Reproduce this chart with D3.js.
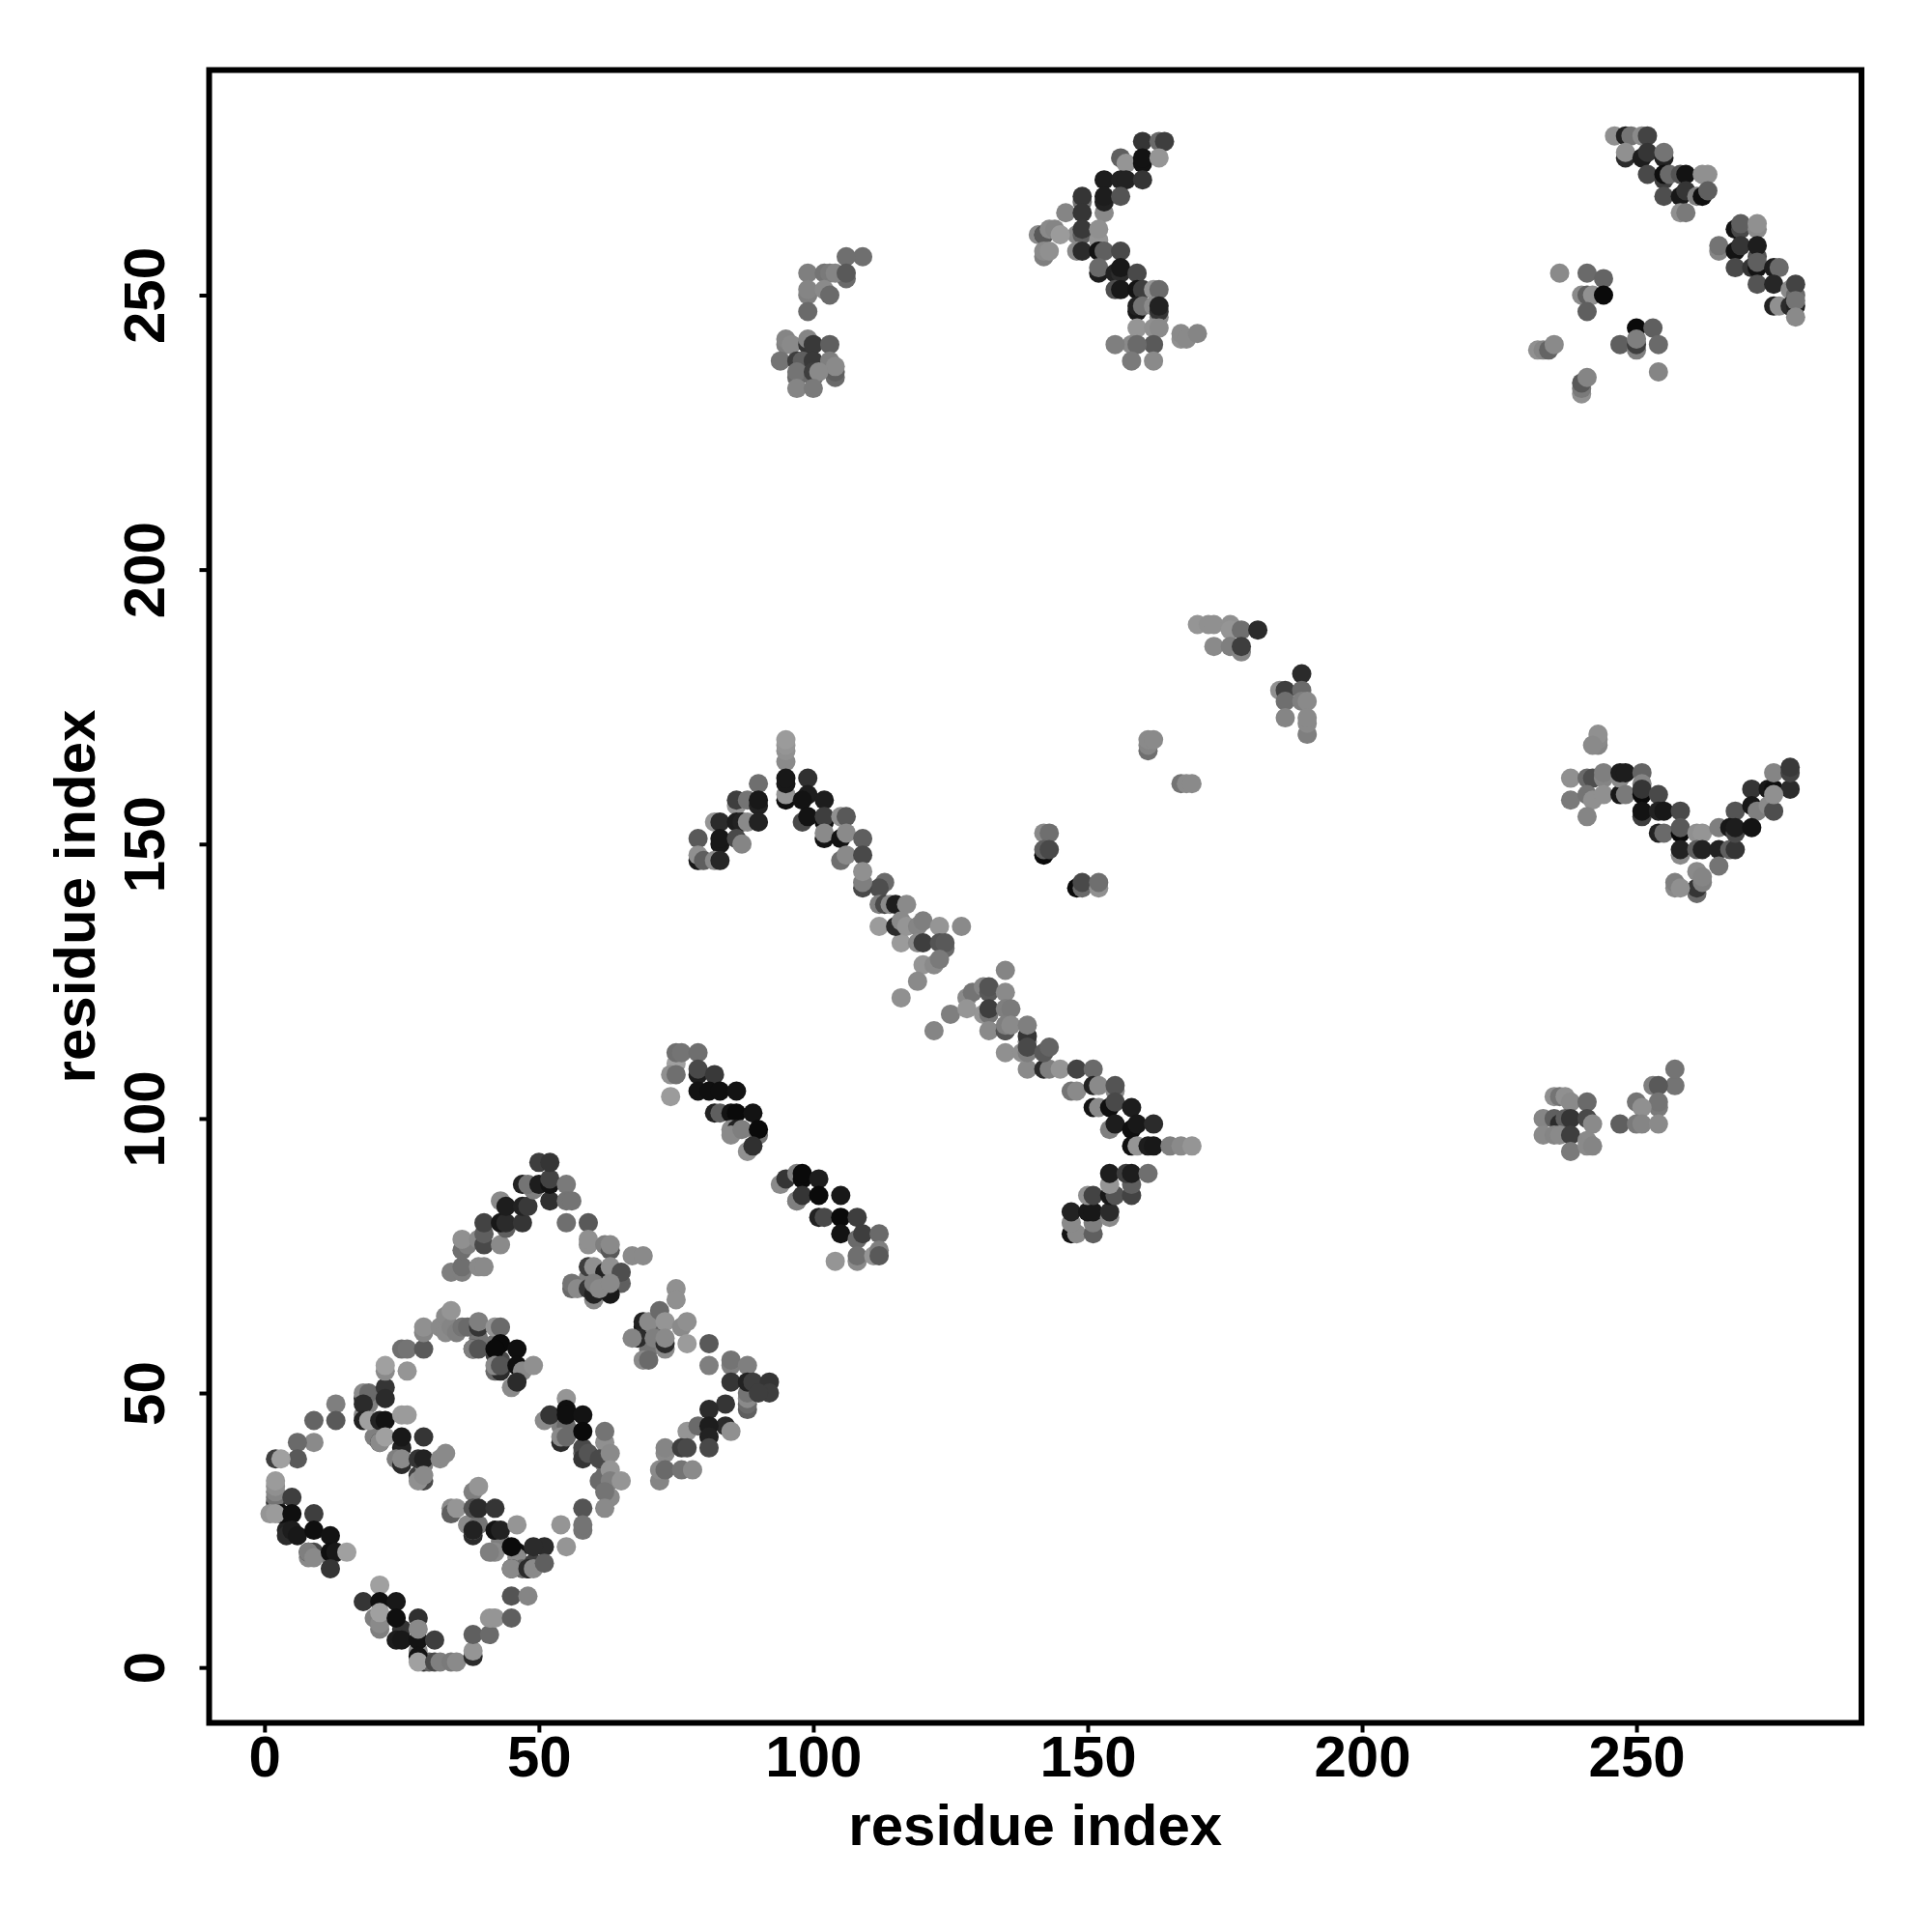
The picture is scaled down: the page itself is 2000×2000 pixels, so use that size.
<!DOCTYPE html>
<html><head><meta charset="utf-8">
<script src="https://cdn.jsdelivr.net/npm/d3@7"></script>
<style>html,body{margin:0;padding:0;background:#fff}svg{display:block}</style>
</head><body><svg id="c" width="2000" height="2000"></svg>
<script>
const tickValues=[0,50,100,150,200,250];
const axisLabel="residue index";
// rows are [residue x, residue y, gray level]
const underlying=[[4,25,30],[4,24,40],[8,20,130],[9,21,70],[12,20,120],[25,40,30],[24,38,120],[20,42,120],[28,35,60],[29,37,120],[18,46,130],[19,48,120],[18,49,40],[37,26,130],[38,24,40],[39,26,110],[43,23,120],[42,21,130],[46,21,10],[46,20,130],[49,19,60],[48,18,20],[47,18,100],[42,57,60],[42,59,110],[39,60,110],[42,54,100],[43,56,70],[54,44,120],[55,44,100],[54,41,40],[58,39,100],[58,40,70],[62,37,130],[62,35,100],[62,33,70],[63,31,130],[21,9,40],[21,7,120],[25,7,50],[28,3,130],[29,1,50],[30,1,90],[69,62,20],[69,60,30],[70,58,110],[73,58,130],[71,62,120],[72,63,90],[60,71,40],[61,70,130],[59,71,120],[62,69,100]];
const squareBottom=[[18,12,50],[21,15,150],[20,9,120],[21,8,130],[21,12,10],[21,10,150],[24,12,20],[24,9,10],[28,9,45],[24,5,25],[25,5,20],[28,5,15],[28,7,130],[31,5,60],[28,2,15],[28,1,150],[31,1,70],[32,1,120],[34,1,115],[35,1,130],[38,2,40],[38,3,140],[38,6,90],[41,6,100],[41,9,140],[42,9,140],[45,9,90],[45,13,80],[48,13,125]];
const squareLeft=[[13,48,120],[13,45,85],[9,45,95],[9,41,130],[6,41,100],[6,38,85],[2,38,60],[3,38,150],[2,30,50],[2,31,110],[2,32,125],[2,33,135],[2,34,145],[5,31,60],[3,28,10],[1,28,140],[2,28,145],[5,28,10],[9,28,60],[5,25,25],[6,24,20],[9,25,10],[12,24,15],[8,21,30],[8,21,120],[9,20,130],[12,21,10],[13,21,20],[15,21,150],[12,18,50]];
const squareInner=[[18,50,130],[19,50,100],[22,51,50],[22,54,130],[22,55,150],[26,54,140],[18,48,40],[22,49,40],[18,45,30],[19,45,150],[21,45,30],[22,45,15],[25,46,145],[26,46,145],[21,41,30],[21,41,130],[22,42,150],[25,42,20],[29,42,50],[25,37,40],[25,38,130],[28,38,50],[29,38,30],[32,38,130],[33,39,130],[29,34,70],[28,34,135],[29,35,130]];
const squareTop=[[25,58,105],[26,58,110],[29,58,85],[29,61,125],[29,62,135],[32,62,130],[33,61,130],[33,64,130],[34,62,125],[34,65,140],[35,61,120],[36,62,110],[37,62,100],[39,62,50],[39,63,120],[42,62,140],[43,62,100],[38,58,50],[38,58,120],[39,58,80],[43,59,5],[42,58,5],[46,58,10],[43,54,40],[42,55,130],[43,55,80],[46,55,10],[47,54,130],[49,55,135],[45,51,130],[46,52,40]];
const squareRight=[[55,49,140],[51,45,130],[52,46,50],[55,47,10],[55,46,10],[58,46,15],[54,42,130],[55,42,100],[58,43,5],[62,41,135],[62,43,110],[58,38,50],[59,39,80],[61,38,70],[63,39,130],[61,34,100],[63,36,140],[63,34,120],[65,34,140],[62,32,110],[58,29,80],[62,29,130],[58,25,110],[58,26,110],[54,26,140],[55,22,140],[51,22,40],[49,22,40],[45,22,5]];
const squareLower=[[38,32,120],[39,33,140],[34,29,130],[34,28,90],[35,29,140],[38,29,80],[39,29,40],[42,29,50],[38,25,130],[38,25,30],[42,25,15],[43,25,30],[46,26,140],[41,21,120],[45,18,40],[45,18,130],[48,18,40],[49,18,130],[51,19,90]];
const sheetA=[[75,69,135],[75,67,135],[69,63,30],[70,63,130],[72,65,100],[73,63,140],[76,62,130],[77,63,135],[68,60,40],[67,60,125],[71,60,120],[73,59,40],[73,60,130],[77,59,145],[81,59,85],[69,56,130],[70,56,100],[81,55,120],[85,55,120],[85,56,110],[88,55,120],[85,52,50],[88,47,90],[88,48,100],[88,49,130],[88,50,110],[88,52,30],[89,52,60],[92,52,50],[92,50,60],[90,50,60],[84,48,50],[81,47,40],[84,44,40],[85,43,135],[77,43,140],[79,44,100],[81,44,25],[81,42,30],[81,40,70],[73,39,130],[73,40,125],[76,40,60],[77,40,70],[72,34,125],[72,36,130],[73,36,100],[76,36,110],[78,36,130]];
const ridge=[[34,72,120],[36,72,120],[36,73,105],[39,73,130],[40,73,130],[36,76,105],[37,77,120],[36,78,135],[39,78,130],[40,77,70],[40,79,90],[40,81,65],[43,77,130],[44,80,90],[43,81,20],[44,81,40],[47,81,50],[43,85,130],[44,84,25],[47,84,30],[48,84,55],[47,88,30],[49,87,120],[48,88,110],[50,88,25],[52,85,45],[52,88,15],[52,89,65],[50,92,60],[52,92,50],[55,88,115],[55,85,110],[56,85,110],[55,81,105],[59,81,85],[59,77,135],[59,78,135],[62,77,120],[63,76,85],[63,77,130],[67,75,130],[69,75,130],[59,73,60],[60,73,135],[62,72,30],[63,73,135],[65,70,90],[65,72,75],[56,69,100],[56,70,110],[57,69,130],[59,69,50],[60,67,130],[60,68,30],[60,70,120],[63,68,20],[61,69,130],[63,70,130]];
const strandB=[[75,110,150],[75,112,105],[76,112,110],[79,112,105],[74,108,135],[75,108,105],[79,108,25],[79,109,70],[82,108,55],[74,104,145],[79,105,15],[81,105,10],[83,105,10],[86,105,15],[82,101,30],[83,101,90],[85,101,15],[86,101,5],[89,101,15],[85,98,130],[86,98,30],[85,97,130],[87,98,120],[90,97,110],[90,98,5],[88,94,135],[89,95,45]];
const strandC=[[94,88,130],[95,89,50],[97,90,120],[98,89,5],[98,90,5],[101,89,25],[97,85,110],[97,85,120],[98,86,50],[101,86,5],[105,86,20],[101,82,30],[102,82,70],[105,82,5],[108,82,60],[105,79,15],[108,78,100],[109,79,60],[112,79,100],[104,74,140],[108,74,130],[108,75,105],[111,75,140],[112,76,120],[112,75,85]];
const armLower=[[147,79,15],[148,79,130],[151,79,90],[147,81,130],[151,81,120],[147,83,30],[150,83,20],[151,83,20],[154,82,130],[154,83,40],[150,86,135],[151,86,65],[154,86,20],[155,86,80],[158,86,65],[154,88,140],[158,88,90],[154,90,25],[157,90,60],[158,90,25],[161,90,105]];
const armUpper=[[139,109,130],[142,109,40],[143,109,120],[145,109,140],[148,109,65],[151,109,100],[147,105,110],[148,105,130],[151,106,30],[152,106,130],[155,105,130],[155,106,80],[151,102,15],[152,102,130],[154,102,10],[155,103,70],[158,102,25],[154,98,120],[155,99,25],[158,98,10],[159,99,20],[162,99,40],[158,95,10],[159,95,140],[161,95,25],[162,95,20],[165,95,120],[167,95,130],[169,95,140]];
const diagMid=[[113,143,100],[112,142,75],[112,139,120],[113,139,70],[112,135,145],[114,139,130],[115,139,25],[117,139,130],[116,132,145],[115,135,40],[116,136,130],[117,135,140],[119,135,125],[120,136,120],[123,135,140],[127,135,130],[119,132,130],[120,132,60],[124,131,100],[123,132,80],[124,132,85],[120,128,140],[122,128,130],[123,129,115],[119,125,130],[116,122,135],[122,116,125],[125,119,120],[128,122,130],[129,123,110],[131,124,125],[132,123,85],[132,124,80],[135,127,125],[135,123,130],[128,120,140],[131,119,140],[132,119,110],[132,120,60],[135,120,120],[136,120,115],[132,116,130],[135,116,50],[135,116,80],[135,117,120],[136,117,130],[139,114,135],[139,115,50],[139,117,120],[135,112,135],[138,112,135],[139,112,120],[139,113,70],[142,112,85],[143,113,95]];
const archLeft=[[95,165,130],[95,167,135],[95,168,140],[95,169,145],[90,161,105],[95,158,10],[95,159,140],[95,161,20],[95,162,20],[99,162,45],[86,157,140],[86,158,60],[88,158,110],[90,157,30],[90,158,20],[99,159,25],[98,158,15],[102,158,25],[82,154,140],[83,154,40],[86,154,25],[87,154,30],[88,154,130],[90,154,30],[98,154,70],[99,155,15],[102,154,10],[102,155,60],[105,155,135],[106,155,85],[79,151,85],[83,150,20],[83,151,20],[86,151,70],[87,150,125],[102,151,15],[102,152,130],[105,151,15],[106,152,130],[109,151,90],[79,147,20],[79,148,135],[80,147,90],[82,147,130],[83,147,35],[105,147,105],[106,148,130],[109,148,70],[109,142,70],[109,143,120],[109,145,135]];
const isolated=[[142,152,130],[143,152,105],[142,148,5],[142,149,90],[143,149,70],[148,142,5],[149,142,100],[149,143,70],[152,142,135],[152,143,105],[170,190,140],[172,190,135],[173,190,135],[176,190,135],[176,189,140],[178,189,105],[181,189,40],[173,186,130],[176,186,120],[178,185,125],[178,186,60],[189,181,40],[185,178,135],[186,178,60],[189,178,100],[186,176,105],[189,176,120],[190,176,130],[186,173,125],[190,170,120],[190,172,130],[190,173,130],[161,167,105],[161,168,125],[161,169,130],[162,169,130],[167,161,110],[168,161,130],[169,161,130]];
const hookLeft=[[106,253,100],[109,257,105],[106,257,105],[99,254,120],[102,254,110],[103,254,115],[104,254,125],[106,254,85],[99,250,120],[99,251,125],[102,251,130],[103,250,100],[99,247,100],[95,241,120],[95,242,125],[96,241,130],[99,241,50],[99,242,125],[100,241,55],[103,241,90],[94,238,110],[97,238,60],[98,238,90],[100,238,55],[103,238,120],[104,235,100],[104,236,90],[104,237,130],[97,235,100],[97,236,110],[100,235,100],[100,236,60],[101,236,130],[97,233,125],[100,233,115]];
const hookRight=[[160,278,50],[163,278,100],[164,278,60],[156,275,90],[157,274,140],[160,274,15],[160,275,15],[163,275,140],[153,271,25],[156,271,30],[157,271,30],[160,271,50],[149,267,110],[149,268,50],[153,265,130],[153,267,30],[153,268,25],[156,268,80],[146,265,125],[149,265,50],[148,261,130],[149,261,90],[149,262,55],[152,260,140],[152,262,135],[141,261,130],[142,261,50],[142,261,85],[143,262,130],[144,262,125],[145,261,145],[142,257,120],[142,258,130],[143,258,135],[148,258,130],[149,258,40],[152,258,15],[153,258,90],[156,258,70],[152,254,25],[152,255,100],[155,254,30],[156,254,40],[156,255,20],[159,254,70],[155,251,75],[156,251,20],[159,251,15],[160,251,60],[162,251,140],[163,251,100],[159,247,20],[159,248,30],[160,248,110],[162,248,130],[163,246,130],[163,247,50],[163,248,30],[159,244,140],[162,244,135],[163,244,130],[162,241,85],[158,241,130],[155,241,120],[159,241,100],[158,238,115],[162,238,130],[167,242,135],[167,243,130],[168,242,130],[170,243,125]];
const topRight=[[246,279,135],[248,279,30],[249,279,110],[251,279,130],[252,279,65],[248,275,40],[248,276,135],[251,275,25],[252,276,50],[255,275,30],[255,276,110],[252,272,70],[255,271,60],[255,272,10],[256,272,100],[258,272,80],[259,272,15],[262,272,135],[263,272,135],[255,268,75],[258,268,20],[259,269,50],[261,268,120],[262,268,10],[263,269,90],[258,265,135],[259,265,115],[268,262,15],[269,262,70],[269,263,90],[272,262,130],[272,263,135],[265,258,125],[265,259,110],[268,258,15],[269,259,50],[272,257,80],[272,259,25],[268,255,70],[271,255,50],[272,255,15],[272,256,90],[272,252,80],[275,255,25],[276,255,100],[275,252,35],[278,251,130],[279,250,100],[279,252,65],[275,248,30],[276,248,135],[278,248,40],[279,248,30],[279,249,110],[279,246,130]];
const scatterTop=[[236,254,130],[241,254,100],[244,253,95],[240,250,130],[241,250,90],[242,250,135],[244,250,5],[241,247,90],[250,244,5],[253,244,90],[247,241,90],[250,240,120],[250,241,60],[250,242,120],[254,241,100],[254,236,125],[232,240,135],[233,240,125],[234,240,95],[235,241,130],[240,232,135],[240,233,115],[240,234,85],[241,235,125]];
const vShape=[[243,168,125],[243,169,130],[243,170,135],[242,168,130],[238,162,135],[241,162,100],[242,162,75],[244,162,125],[244,163,120],[238,158,115],[241,159,110],[242,158,135],[244,159,135],[241,155,125],[247,159,20],[247,162,130],[247,163,25],[248,163,25],[248,159,115],[251,163,95],[251,161,125],[251,159,5],[251,160,50],[254,159,70],[251,155,60],[251,156,15],[254,156,30],[255,156,20],[258,156,70],[254,152,30],[255,152,100],[258,152,5],[258,153,85],[261,152,135],[262,152,140],[265,153,120],[268,156,80],[258,148,130],[258,149,30],[261,149,90],[262,149,30],[265,149,30],[267,149,90],[268,149,50],[267,153,20],[268,152,70],[268,153,25],[265,146,110],[271,160,50],[274,160,20],[275,160,10],[278,160,40],[271,157,20],[272,156,120],[274,157,130],[275,156,75],[275,159,135],[271,153,15],[275,163,125],[278,163,65],[278,164,55],[261,141,100],[261,142,50],[261,145,130],[262,143,120],[262,144,125],[257,142,130],[257,143,120],[258,142,135]];
const lowerPatch=[[257,106,110],[257,109,110],[253,106,120],[254,106,85],[254,102,115],[254,103,110],[250,103,110],[251,102,135],[247,99,90],[250,99,115],[251,99,125],[254,99,130],[235,104,135],[236,104,110],[237,104,135],[238,103,130],[241,103,100],[233,100,125],[235,100,90],[236,99,40],[237,100,90],[238,100,50],[241,100,70],[242,99,130],[233,97,130],[235,97,125],[236,97,130],[238,97,60],[241,96,130],[238,94,115],[241,95,130],[242,95,125]];
const clusters=[underlying,squareBottom,squareLeft,squareInner,squareTop,squareRight,squareLower,sheetA,ridge,strandB,strandC,armLower,armUpper,diagMid,archLeft,isolated,hookLeft,hookRight,topRight,scatterTop,vShape,lowerPatch];

const svg=d3.select("#c");
const L=216.5,R=1927,T=72.5,B=1783.5,FONT="'Liberation Sans',Arial,sans-serif";
const x=d3.scaleLinear().domain([-10,291]).range([L+.5,R]);
const y=d3.scaleLinear().domain([-10,291]).range([B-.5,T]);
const shade=d3.scaleLinear().domain([0,60,150]).range([5,62,160]);
const pts=clusters.flat();
svg.append("g").selectAll("circle").data(pts).join("circle")
  .attr("cx",d=>x(d[0])).attr("cy",d=>y(d[1])).attr("r",10)
  .attr("fill",d=>{const g=Math.round(shade(d[2]));return d3.rgb(g,g,g);});
svg.append("rect").attr("x",L).attr("y",T).attr("width",R-L).attr("height",B-T)
  .attr("fill","none").attr("stroke","#000").attr("stroke-width",6);
const ax=svg.append("g").attr("transform",`translate(0,${B})`)
  .call(d3.axisBottom(x).tickValues(tickValues).tickSize(10).tickPadding(0));
ax.select(".domain").remove();
ax.selectAll("line").attr("stroke","#000").attr("stroke-width",4);
ax.selectAll("text").attr("y",55).attr("dy",0).attr("font-family",FONT).attr("font-weight","bold").attr("font-size",60).attr("fill","#000").attr("text-anchor","middle");
const ay=svg.append("g").attr("transform",`translate(${L},0)`)
  .call(d3.axisLeft(y).tickValues(tickValues).tickSize(10).tickPadding(0));
ay.select(".domain").remove();
ay.selectAll("line").attr("stroke","#000").attr("stroke-width",4);
ay.selectAll("text").attr("x",0).attr("y",0).attr("dy",0).attr("font-family",FONT).attr("font-weight","bold").attr("font-size",60).attr("fill","#000").attr("text-anchor","middle")
  .attr("transform",`translate(${170-L},0) rotate(-90)`);
svg.append("text").text(axisLabel).attr("x",(L+R)/2).attr("y",1910).attr("text-anchor","middle")
  .attr("font-family",FONT).attr("font-weight","bold").attr("font-size",60).attr("fill","#000");
svg.append("text").text(axisLabel).attr("text-anchor","middle")
  .attr("transform",`translate(98,${(T+B)/2}) rotate(-90)`)
  .attr("font-family",FONT).attr("font-weight","bold").attr("font-size",60).attr("fill","#000");
</script></body></html>
